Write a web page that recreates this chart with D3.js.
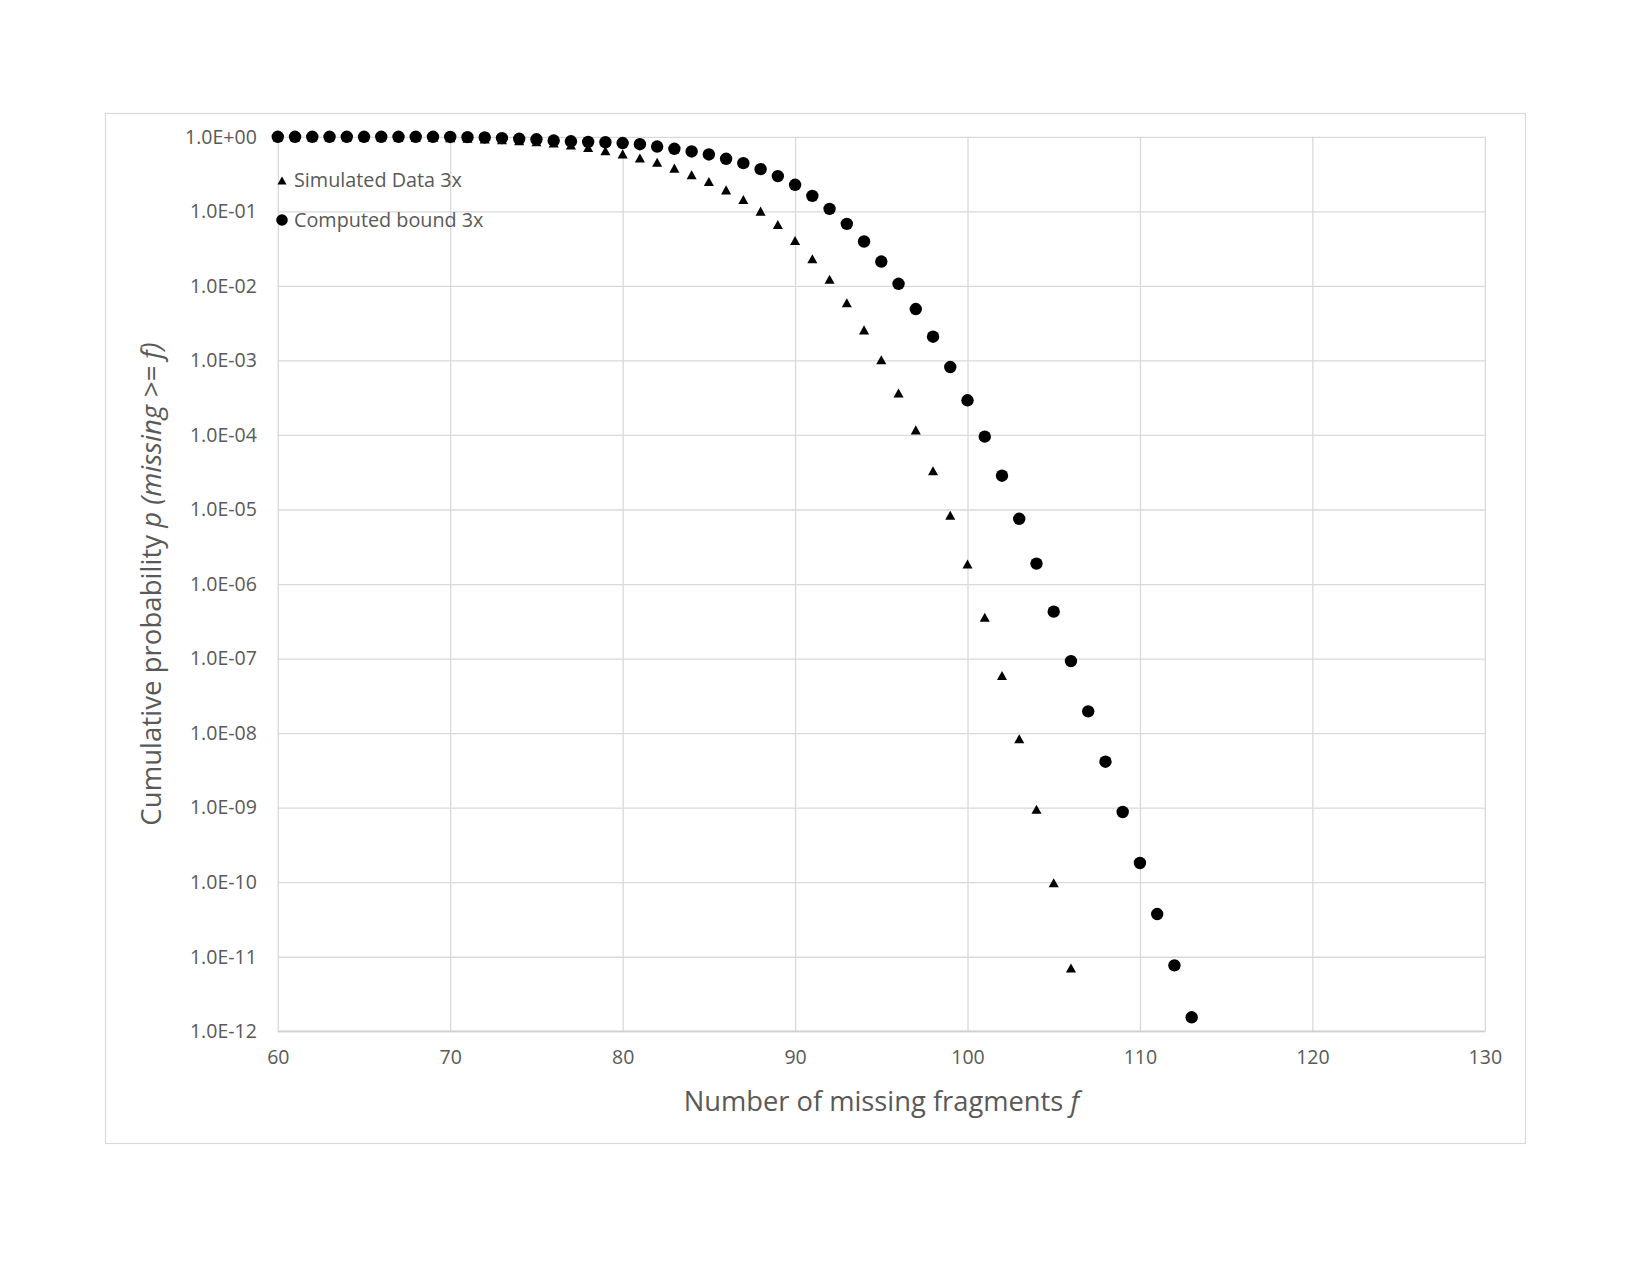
<!DOCTYPE html>
<html>
<head>
<meta charset="utf-8">
<script src="https://cdn.jsdelivr.net/npm/d3@7"></script>
<style>
  html, body { margin: 0; padding: 0; background: #fff; }
  svg { display: block; }
  text { font-family: "Open Sans", "Noto Sans", sans-serif; fill: #595959; }
</style>
</head>
<body>
<svg id="chart" width="1650" height="1275"></svg>
<script>
// ---- data ----
const xTicks = [60, 70, 80, 90, 100, 110, 120, 130];
const yTickExponents = [0, -1, -2, -3, -4, -5, -6, -7, -8, -9, -10, -11, -12];

const simulatedF = [60,61,62,63,64,65,66,67,68,69,70,71,72,73,74,75,76,77,78,79,80,81,82,83,84,85,86,87,88,89,90,91,92,93,94,95,96,97,98,99,100,101,102,103,104,105,106];
const simulatedP = [1.0,1.0,1.0,1.0,1.0,1.0,1.0,0.995,0.99,0.985,0.975,0.96,0.935,0.915,0.887,0.86,0.826,0.776,0.72,0.65,0.59,0.52,0.455,0.38,0.309,0.252,0.194,0.144,0.1006,0.0667,0.0407,0.0231,0.0123,0.00593,0.00257,0.00102,0.000365,1.17e-4,3.32e-5,8.36e-6,1.86e-6,3.58e-7,5.92e-8,8.4e-9,9.5e-10,9.86e-11,7.06e-12];

const boundF = [60,61,62,63,64,65,66,67,68,69,70,71,72,73,74,75,76,77,78,79,80,81,82,83,84,85,86,87,88,89,90,91,92,93,94,95,96,97,98,99,100,101,102,103,104,105,106,107,108,109,110,111,112,113];
const boundP = [1.0,1.0,1.0,1.0,1.0,1.0,1.0,1.0,1.0,1.0,0.995,0.99,0.98,0.96,0.94,0.925,0.89,0.87,0.855,0.845,0.825,0.795,0.74,0.69,0.636,0.58,0.507,0.443,0.368,0.297,0.227,0.161,0.108,0.068,0.0394,0.0212,0.01066,0.00489,0.00208,0.000815,2.92e-4,9.5e-5,2.84e-5,7.5e-6,1.88e-6,4.26e-7,9.25e-8,1.96e-8,4.14e-9,8.75e-10,1.81e-10,3.74e-11,7.67e-12,1.54e-12];

const seriesNames = ["Simulated Data 3x", "Computed bound 3x"];
const xTitle = "Number of missing fragments ";
const xTitleItalic = "f";
const yTitleParts = [["Cumulative probability ", false], ["p (missing >= f)", true]];

// ---- layout ----
const svg = d3.select("#chart");
const plot = { left: 277.8, right: 1484.8, top: 136.8, bottom: 1031.3 };

const x = d3.scaleLinear().domain([60, 130]).range([plot.left, plot.right]);
const y = d3.scaleLog().domain([1e-12, 1]).range([plot.bottom, plot.top]);

// outer chart border
svg.append("rect")
  .attr("x", 105.5).attr("y", 113.5)
  .attr("width", 1420).attr("height", 1030)
  .attr("fill", "#fff").attr("stroke", "#d9d9d9").attr("stroke-width", 1.2);

function fmtExp(v) {
  const e = Math.round(Math.log10(v));
  const sign = e < 0 ? "-" : "+";
  return "1.0E" + sign + String(Math.abs(e)).padStart(2, "0");
}

// gridlines via axes
const yAxis = d3.axisLeft(y)
  .tickValues(yTickExponents.map(e => Math.pow(10, e)))
  .tickSize(-(plot.right - plot.left))
  .tickFormat(fmtExp)
  .tickPadding(21);
const gy = svg.append("g").attr("transform", `translate(${plot.left},0)`).call(yAxis);
gy.select(".domain").remove();
gy.selectAll(".tick line").attr("stroke", "#d9d9d9").attr("stroke-width", 1.3);
gy.selectAll(".tick text")
  .attr("font-size", 19.5).attr("fill", "#595959")
  .style("font-family", '"Open Sans", sans-serif');

const xAxis = d3.axisBottom(x)
  .tickValues(xTicks)
  .tickSize(-(plot.bottom - plot.top))
  .tickFormat(d3.format("d"))
  .tickPadding(19);
const gx = svg.append("g").attr("transform", `translate(0,${plot.bottom})`).call(xAxis);
gx.select(".domain").remove();
gx.selectAll(".tick line").attr("stroke", "#d9d9d9").attr("stroke-width", 1.3);
gx.selectAll(".tick text")
  .attr("font-size", 19.5).attr("fill", "#595959")
  .style("font-family", '"Open Sans", sans-serif');

// bottom axis line slightly darker
svg.append("line")
  .attr("x1", plot.left).attr("x2", plot.right)
  .attr("y1", plot.bottom).attr("y2", plot.bottom)
  .attr("stroke", "#cfcfcf").attr("stroke-width", 1.5);

// triangle symbol centered on its bounding box
const triangleBox = {
  draw(context, size) {
    const w = Math.sqrt(size * 2.3);
    const h = w * 0.9;
    context.moveTo(0, -h / 2);
    context.lineTo(w / 2, h / 2);
    context.lineTo(-w / 2, h / 2);
    context.closePath();
  }
};

const triPath = d3.symbol().type(triangleBox).size(44)();
const circPath = d3.symbol().type(d3.symbolCircle).size(Math.PI * 6.2 * 6.2)();

const sim = simulatedF.map((f, i) => ({ f, p: simulatedP[i] }));
const bnd = boundF.map((f, i) => ({ f, p: boundP[i] }));

svg.append("g").selectAll("path").data(sim).join("path")
  .attr("d", triPath)
  .attr("transform", d => `translate(${x(d.f)},${y(d.p)})`)
  .attr("fill", "#000");

svg.append("g").selectAll("path").data(bnd).join("path")
  .attr("d", circPath)
  .attr("transform", d => `translate(${x(d.f)},${y(d.p)})`)
  .attr("fill", "#000");

// legend
const legend = svg.append("g");
const legendItems = [
  { name: seriesNames[0], cy: 180.5 },
  { name: seriesNames[1], cy: 220 }
];
legendItems.forEach((it, i) => {
  legend.append("path")
    .attr("d", i === 0 ? d3.symbol().type(triangleBox).size(36)() : d3.symbol().type(d3.symbolCircle).size(Math.PI * 5.8 * 5.8)())
    .attr("transform", `translate(282,${it.cy})`)
    .attr("fill", "#000");
  legend.append("text")
    .attr("x", 294).attr("y", it.cy)
    .attr("dy", "0.35em")
    .attr("font-size", 19.8)
    .text(it.name);
});

// x title
const xt = svg.append("text")
  .attr("x", (plot.left + plot.right) / 2)
  .attr("y", 1111)
  .attr("text-anchor", "middle")
  .attr("font-size", 27.3);
xt.append("tspan").text(xTitle);
xt.append("tspan").attr("font-style", "italic").text(xTitleItalic);

// y title
const yt = svg.append("text")
  .attr("transform", `translate(161,${(plot.top + plot.bottom) / 2}) rotate(-90)`)
  .attr("text-anchor", "middle")
  .attr("font-size", 27.6);
yTitleParts.forEach(([t, it]) => {
  yt.append("tspan").attr("font-style", it ? "italic" : "normal").text(t);
});
</script>
</body>
</html>
